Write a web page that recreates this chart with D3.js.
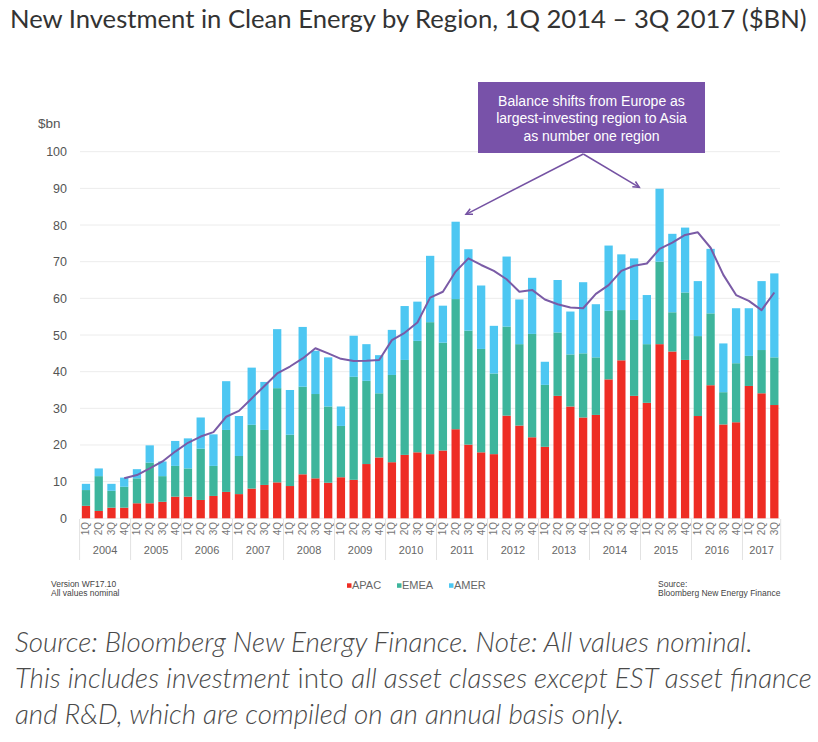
<!DOCTYPE html>
<html>
<head>
<meta charset="utf-8">
<script src="https://cdn.jsdelivr.net/npm/d3@7"></script>
<style>
  html, body { margin: 0; padding: 0; background: #fff; }
  svg { display: block; }
</style>
</head>
<body>
<svg id="chart" width="818" height="742"></svg>
<script>
// ---------- DATA ----------
const quarters = ["1Q","2Q","3Q","4Q"];
const years = ["2004","2005","2006","2007","2008","2009","2010","2011","2012","2013","2014","2015","2016","2017"];
// Stack boundaries ($bn)
const apac = [3.4,2.0,2.9,2.9, 4.1,4.1,4.5,5.9, 5.9,5.0,6.1,7.2, 6.6,8.1,9.1,9.8,
  8.8,12.0,10.9,9.7, 11.2,10.5,14.8,16.6, 15.3,17.3,18.0,17.5, 18.5,24.3,20.1,18.0,
  17.5,28.0,25.3,22.1, 19.5,33.4,30.5,27.5, 28.2,37.9,43.1,33.4, 31.5,47.5,45.5,43.2,
  27.9,36.3,25.6,26.2, 36.1,34.1,30.9];
const emeaTop = [7.7,11.5,7.5,8.6, 10.9,15.2,11.5,14.3, 13.6,19.0,14.3,24.1, 17.0,25.5,24.1,35.5,
  22.8,35.9,33.9,30.5, 25.2,38.6,37.5,34.1, 39.1,43.2,48.4,53.5, 47.9,59.8,51.2,46.2,
  39.5,52.3,47.5,50.3, 36.4,50.7,44.7,45.0, 43.9,56.6,56.8,54.1, 47.5,70.0,56.2,61.6,
  49.7,55.9,34.4,42.3, 44.3,45.9,43.9];
const totals = [9.4,13.6,9.4,11.1, 13.4,19.9,15.5,21.1, 21.8,27.5,22.9,37.4, 27.9,41.1,37.2,51.6,
  35.0,52.2,45.7,43.9, 30.5,49.8,47.5,44.5, 51.4,57.9,59.1,71.6, 58.0,80.9,73.4,63.5,
  52.5,71.4,59.7,65.6, 42.7,65.0,56.4,64.4, 58.4,74.4,72.0,70.9, 60.9,89.9,77.6,79.3,
  64.7,73.5,47.7,57.3, 57.3,64.7,66.8];
// Trend line (4-quarter average), starting at 4Q 2004
const trend = [null,null,null,10.9, 11.8,13.6,15.5,18.2, 20.6,22.3,23.5,27.7, 29.3,32.7,36.1,39.5,
  41.4,43.6,46.4,45.0, 43.5,42.9,43.0,43.2, 48.6,50.6,53.4,60.2, 61.8,67.3,70.9,69.1,
  67.5,65.2,61.8,62.3, 59.7,58.4,57.5,57.3, 61.2,63.6,67.5,68.9, 69.5,73.5,75.2,77.3,
  78.0,73.8,66.4,60.9, 59.3,56.8,61.6];
const yTicks = [0,10,20,30,40,50,60,70,80,90,100];
const seriesNames = ["APAC","EMEA","AMER"];
const seriesColors = ["#ee2d24","#3db59c","#4dc7f2"];

// derived labels
const labels = [];
years.forEach(y => quarters.forEach(q => labels.push({q, y})));
labels.length = totals.length;
const emea = emeaTop.map((v,i) => +(v - apac[i]).toFixed(2));
const amer = totals.map((v,i) => +(v - emeaTop[i]).toFixed(2));
const rows = labels.map((l,i) => ({i, q:l.q, y:l.y, APAC:apac[i], EMEA:emea[i], AMER:amer[i]}));

// ---------- DRAW ----------
const svg = d3.select("#chart");
svg.append("rect").attr("width",818).attr("height",742).attr("fill","#fff");

const x = d3.scaleBand().domain(d3.range(rows.length)).range([79.6, 780.7]).paddingInner(0.35).paddingOuter(0.175);
const y = d3.scaleLinear().domain([0,100]).range([518.3, 151.7]);

// title
const title = svg.append("text").attr("x",10).attr("y",28)
  .attr("font-family","Lato, 'Open Sans', sans-serif").attr("font-size",23)
  .attr("fill","#333").text("New Investment in Clean Energy by Region, 1Q 2014 – 3Q 2017 ($BN)");
(function fit(){ const w = title.node().getComputedTextLength(); title.attr("font-size", 23*797/w); })();

// gridlines
svg.append("g").selectAll("line").data(yTicks).join("line")
  .attr("x1",80).attr("x2",780).attr("y1",d=>y(d)).attr("y2",d=>y(d))
  .attr("stroke","#ececec").attr("stroke-width",1);

// y axis labels
const yAxis = d3.axisLeft(y).tickValues(yTicks).tickSize(0).tickPadding(0);
const yg = svg.append("g").attr("transform","translate(67,0)").call(yAxis);
yg.select(".domain").remove();
yg.selectAll("text").attr("font-family","'Liberation Sans', Arial, sans-serif").attr("font-size",12.5).attr("fill","#555");
svg.append("text").attr("x",38).attr("y",128).attr("font-family","'Liberation Sans', Arial, sans-serif")
  .attr("font-size",13.5).attr("fill","#555").text("$bn");

// stacked bars
const stack = d3.stack().keys(seriesNames)(rows);
svg.append("g").selectAll("g").data(stack).join("g")
  .attr("fill",(d,i)=>seriesColors[i])
  .selectAll("rect").data(d=>d).join("rect")
  .attr("x",d=>x(d.data.i)).attr("width",x.bandwidth())
  .attr("y",d=>y(d[1])).attr("height",d=>y(d[0])-y(d[1]));

// trend line
const line = d3.line().defined(d=>d!=null).x((d,i)=>x(i)+x.bandwidth()/2).y(d=>y(d)).curve(d3.curveLinear);
svg.append("path").datum(trend).attr("d",line).attr("fill","none")
  .attr("stroke","#7a5ba6").attr("stroke-width",2).attr("stroke-linejoin","round");

// x axis: quarter labels (rotated)
const xa = svg.append("g");
xa.selectAll("text.q").data(rows).join("text").attr("class","q")
  .attr("transform",d=>`translate(${x(d.i)+x.bandwidth()/2},522) rotate(-90)`)
  .attr("text-anchor","end").attr("dy","0.35em")
  .attr("font-family","'Liberation Sans', Arial, sans-serif").attr("font-size",10).attr("fill","#777")
  .text(d=>d.q);
// year separators and labels
const yearGroups = d3.groups(rows, d=>d.y);
const seps = [x(0) - x.step()*x.paddingOuter()];
yearGroups.forEach(([yr, arr]) => {
  const last = arr[arr.length-1].i;
  seps.push(x(last) + x.bandwidth() + x.step()*x.paddingInner()/2);
});
seps[seps.length-1] = x(rows.length-1) + x.bandwidth() + x.step()*x.paddingOuter();
xa.selectAll("line").data(seps).join("line")
  .attr("x1",d=>d).attr("x2",d=>d).attr("y1",519).attr("y2",560)
  .attr("stroke","#e2e2e2").attr("stroke-width",1);
xa.selectAll("text.yr").data(yearGroups).join("text").attr("class","yr")
  .attr("x",([yr,arr]) => (x(arr[0].i) + x(arr[arr.length-1].i) + x.bandwidth())/2)
  .attr("y",554).attr("text-anchor","middle")
  .attr("font-family","'Liberation Sans', Arial, sans-serif").attr("font-size",11).attr("fill","#666")
  .text(([yr])=>yr);

// footnotes inside chart
const small = {"font-family":"'Liberation Sans Narrow', 'Liberation Sans', Arial, sans-serif","font-size":8.5,"fill":"#444"};
function addText(t, xx, yy, anchor="start"){
  const e = svg.append("text").attr("x",xx).attr("y",yy).attr("text-anchor",anchor);
  Object.entries(small).forEach(([k,v])=>e.attr(k,v));
  e.text(t); return e;
}
addText("Version WF17.10",51,587);
addText("All values  nominal",51,595.5);
addText("Source:",658,587);
addText("Bloomberg New Energy Finance",658,595.5);

// legend
const legendX = [347, 397, 449];
const lg = svg.append("g");
seriesNames.forEach((n,i)=>{
  lg.append("rect").attr("x",legendX[i]).attr("y",583.3).attr("width",4.5).attr("height",4.5).attr("fill",seriesColors[i]);
  lg.append("text").attr("x",legendX[i]+5).attr("y",589.3)
    .attr("font-family","'Liberation Sans', Arial, sans-serif").attr("font-size",11).attr("fill","#666").text(n);
});

// annotation
const ann = svg.append("g");
ann.append("rect").attr("x",478).attr("y",82).attr("width",227).attr("height",71).attr("fill","#7852a9");
["Balance shifts from Europe as","largest-investing region to Asia","as number one region"].forEach((t,i)=>{
  ann.append("text").attr("x",591.5).attr("y",105.5+i*17.5).attr("text-anchor","middle")
    .attr("font-family","'Liberation Sans', Arial, sans-serif").attr("font-size",14).attr("fill","#fff").text(t);
});
const arrowColor = "#7552a3";
function arrow(x1,y1,x2,y2){
  ann.append("line").attr("x1",x1).attr("y1",y1).attr("x2",x2).attr("y2",y2)
    .attr("stroke",arrowColor).attr("stroke-width",1.5);
  const a = Math.atan2(y2-y1,x2-x1), L = 7, s = 0.45;
  const p1 = [x2 - L*Math.cos(a - s), y2 - L*Math.sin(a - s)];
  const p2 = [x2 - L*Math.cos(a + s), y2 - L*Math.sin(a + s)];
  ann.append("path").attr("d",`M${p1}L${x2},${y2}L${p2}`).attr("fill","none")
    .attr("stroke",arrowColor).attr("stroke-width",1.5);
}
arrow(583.3,154,466,214.3);
arrow(583.3,154,639.3,187.3);

// caption
const cap = svg.append("g").attr("font-family","Lato, 'Open Sans', sans-serif").attr("font-style","italic")
  .attr("font-weight",300).attr("fill","#4a4a4a").attr("font-size",22);
cap.append("text").attr("x",15).attr("y",652).text("Source: Bloomberg New Energy Finance. Note: All values nominal.");
const l2 = cap.append("text").attr("x",15).attr("y",688);
l2.append("tspan").text("This includes investment ");
l2.append("tspan").attr("font-style","normal").text("into ");
l2.append("tspan").text("all asset classes except EST asset finance");
cap.append("text").attr("x",15).attr("y",724).text("and R&D, which are compiled on an annual basis only.");
(function fitCap(){ const w = l2.node().getComputedTextLength(); cap.attr("font-size", 22*797/w); })();
</script>
</body>
</html>
